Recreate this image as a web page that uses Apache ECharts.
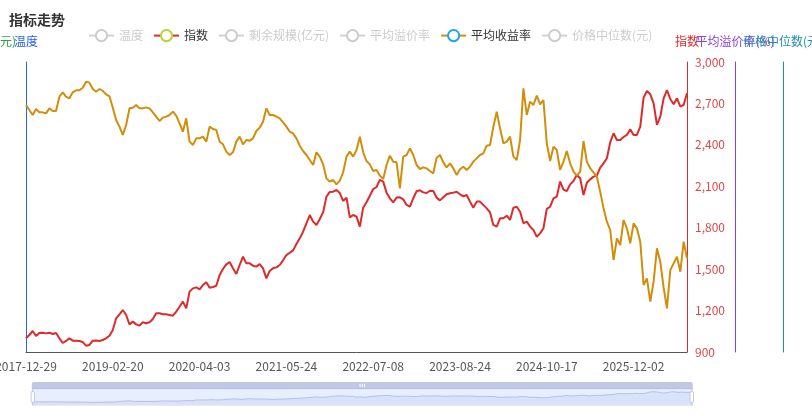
<!DOCTYPE html>
<html>
<head>
<meta charset="utf-8">
<script src="https://cdn.jsdelivr.net/npm/echarts@6.0.0/dist/echarts.min.js"></script>
<style>
  html, body { margin: 0; padding: 0; background: #fff; }
  #chart { width: 812px; height: 416px; }
</style>
</head>
<body>
<div id="chart"></div>
<script>
// x 轴刻度日期（每 26 个点一个标签）
const tickDates = ['2017-12-29', '2019-02-20', '2020-04-03', '2021-05-24',
    '2022-07-08', '2023-08-24', '2024-10-17', '2025-12-02'];
const labelStep = 26;
const tailCount = 16;

const legendNames = ['温度', '指数', '剩余规模(亿元)', '平均溢价率', '平均收益率', '价格中位数(元)'];

// 指数
const indexValues = [
    1000, 1023, 1052, 1016, 1038, 1040, 1035, 1040, 1030, 1038, 999, 965, 980, 999, 982, 982, 980, 972, 946, 951,
    982, 984, 980, 987, 999, 1018, 1059, 1144, 1173, 1204, 1168, 1100, 1120, 1100,
    1091, 1115, 1108, 1115, 1139, 1180, 1180, 1173, 1173, 1168, 1163, 1192, 1228, 1265, 1216, 1337, 1361, 1368, 1354, 1385,
    1405, 1366, 1371, 1380, 1458, 1501, 1535, 1552, 1506, 1465, 1530, 1590, 1542,
    1542, 1525, 1518, 1537, 1506, 1433, 1487, 1506, 1513, 1530, 1564, 1602, 1619, 1636, 1682, 1723, 1771, 1832, 1892, 1844,
    1820, 1863, 1911, 2025, 2059, 2061, 2073, 2051, 1994, 2018, 1875, 1892, 1880,
    1808, 1945, 1984, 2032, 2080, 2095, 2146, 2134, 2054, 2013, 1984, 2018, 2020, 2006, 1965, 1952, 2013, 2064, 2071, 2056,
    2051, 2068, 2066, 2018, 1998, 2020, 2042, 2049, 2054, 2061, 2042, 2027, 2037,
    1989, 1945, 1989, 1989, 1965, 1940, 1911, 1820, 1808, 1868, 1868, 1887, 1856, 1945, 1952, 1916, 1832, 1844, 1808, 1784,
    1735, 1759, 1796, 1936, 1952, 2013, 2025, 2134, 2076, 2066, 2114, 2138,
    2182, 2158, 2037, 2126, 2150, 2170, 2177, 2235, 2266, 2303, 2418, 2484, 2435, 2435, 2457, 2472, 2513, 2472, 2472, 2532,
    2742, 2790, 2766, 2701, 2544, 2604, 2737, 2797, 2732, 2694, 2737, 2677, 2689, 2773
];

// 平均收益率(%)
const avgYield = [
    4.41, 4.26, 4.11, 4.29, 4.19, 4.19, 4.16, 4.31, 4.23, 4.23, 4.66, 4.79, 4.66, 4.61, 4.79, 4.85, 4.85, 4.93, 5.11, 5.08,
    4.89, 4.81, 4.89, 4.83, 4.73, 4.67, 4.33, 3.96, 3.76, 3.51, 3.81, 4.31, 4.33, 4.41,
    4.31, 4.31, 4.34, 4.31, 4.19, 4.06, 3.93, 4.03, 4.06, 4.11, 4.21, 4.09, 3.86, 3.61, 4.01, 3.31, 3.21, 3.41, 3.41, 3.46,
    3.31, 3.76, 3.69, 3.66, 3.31, 3.23, 3.01, 2.91, 2.99, 3.31, 3.46, 3.23, 3.36,
    3.34, 3.41, 3.63, 3.73, 3.91, 4.31, 4.11, 4.11, 4.06, 4.01, 3.89, 3.76, 3.61, 3.56, 3.41, 3.19, 3.03, 2.91, 2.76, 2.61,
    2.99, 2.86, 2.63, 2.21, 2.11, 2.16, 2.03, 2.14, 2.39, 2.86, 3.01, 2.86, 3.06,
    3.46, 2.99, 2.73, 2.63, 2.43, 2.46, 2.29, 2.19, 2.61, 2.89, 2.71, 2.69, 1.91, 2.86, 2.91, 3.11, 2.91, 2.61, 2.49, 2.54,
    2.51, 2.43, 2.36, 2.83, 2.91, 2.69, 2.54, 2.66, 2.51, 2.31, 2.48, 2.56, 2.46,
    2.56, 2.71, 2.81, 2.91, 2.96, 3.19, 3.21, 3.76, 4.21, 3.71, 3.26, 3.31, 3.46, 2.86, 2.76, 3.36, 4.91, 4.11, 4.51, 4.41,
    4.69, 4.43, 4.56, 3.26, 2.73, 3.16, 3.06, 2.46, 2.71, 3.03, 2.66, 2.41,
    2.29, 2.41, 3.33, 2.71, 2.51, 2.39, 2.26, 1.81, 1.31, 0.91, 0.66, -0.24, 0.41, 0.21, 0.96, 0.71, 0.26, 0.86, 0.71, 0.31,
    -0.99, -0.79, -1.49, -0.89, 0.11, -0.29, -1.07, -1.69, -0.54, -0.34, -0.14, -0.59, 0.31, -0.19
];

function fmt(t) {
    return new Date(t).toISOString().slice(0, 10);
}

// 在刻度日期之间补全类目日期
function buildDates() {
    const list = [];
    const day = 86400000;
    const ts = tickDates.map(d => Date.parse(d + 'T00:00:00Z'));
    for (let k = 0; k < ts.length - 1; k++) {
        const span = (ts[k + 1] - ts[k]) / day;
        for (let j = 0; j < labelStep; j++) {
            list.push(fmt(ts[k] + Math.round(span * j / labelStep) * day));
        }
    }
    const last = ts[ts.length - 1];
    const lastSpan = (last - ts[ts.length - 2]) / day;
    for (let j = 0; j <= tailCount; j++) {
        list.push(fmt(last + Math.round(lastSpan * j / labelStep) * day));
    }
    return list;
}

const dates = buildDates();
const chart = echarts.init(document.getElementById('chart'));

const option = {
    textStyle: { fontFamily: '"Noto Sans CJK SC", sans-serif' },
    title: {
        text: '指标走势',
        left: 4,
        top: 8,
        textStyle: { fontSize: 14, fontWeight: 'bold', color: '#333' }
    },
    tooltip: { trigger: 'axis' },
    legend: {
        left: 83,
        top: 24,
        itemWidth: 25,
        itemHeight: 14,
        itemGap: 10,
        data: legendNames,
        selected: {
            '温度': false,
            '剩余规模(亿元)': false,
            '平均溢价率': false,
            '价格中位数(元)': false
        },
        inactiveColor: '#ccc',
        textStyle: { fontSize: 12, color: '#333' }
    },
    grid: { left: 26, right: 125, top: 62, bottom: 64, containLabel: false, outerBoundsMode: 'none' },
    xAxis: {
        type: 'category',
        data: dates,
        boundaryGap: false,
        axisLine: { lineStyle: { color: '#555' } },
        axisTick: { show: false },
        axisLabel: { interval: labelStep - 1, color: '#555', fontSize: 12 }
    },
    yAxis: [
        {
            name: '温度', type: 'value', position: 'left', offset: 0,
            axisLine: { show: true, lineStyle: { color: '#2962f0' } },
            axisLabel: { show: false }, axisTick: { show: false }, splitLine: { show: false },
            nameTextStyle: { color: '#2962f0', fontSize: 12 }
        },
        {
            name: '剩余规模(亿元)', type: 'value', position: 'left', offset: 50,
            axisLine: { show: true, lineStyle: { color: '#2ca34b' } },
            axisLabel: { show: false }, axisTick: { show: false }, splitLine: { show: false },
            nameTextStyle: { color: '#2ca34b', fontSize: 12 }
        },
        {
            name: '指数', type: 'value', position: 'right', offset: 0,
            min: 900, max: 3000, interval: 300,
            axisLine: { show: true, lineStyle: { color: '#dd2a2a' } },
            axisLabel: { color: '#e04848', fontSize: 12 },
            axisTick: { show: false }, splitLine: { show: false },
            nameTextStyle: { color: '#dd2a2a', fontSize: 12 }
        },
        {
            name: '平均溢价率(%)', type: 'value', position: 'right', offset: 48,
            axisLine: { show: true, lineStyle: { color: '#8a3fe0' } },
            axisLabel: { show: false }, axisTick: { show: false }, splitLine: { show: false },
            nameTextStyle: { color: '#8a3fe0', fontSize: 12 }
        },
        {
            name: '价格中位数(元)', type: 'value', position: 'right', offset: 96,
            axisLine: { show: true, lineStyle: { color: '#1f8ea6' } },
            axisLabel: { show: false }, axisTick: { show: false }, splitLine: { show: false },
            nameTextStyle: { color: '#1f8ea6', fontSize: 12 }
        },
        {
            type: 'value', show: false, min: -3, max: 5.7
        }
    ],
    dataZoom: [
        { type: 'slider', xAxisIndex: 0, left: 29, right: 122, bottom: 17, height: 17, start: 0, end: 100 },
        { type: 'inside', xAxisIndex: 0 }
    ],
    series: [
        {
            name: '指数', type: 'line', yAxisIndex: 2, data: indexValues,
            showSymbol: false, symbol: 'emptyCircle',
            lineStyle: { color: '#dd2a2a', width: 2 },
            itemStyle: { color: '#b5d334' }
        },
        {
            name: '温度', type: 'line', yAxisIndex: 0, data: [],
            showSymbol: false, lineStyle: { color: '#2962f0' }, itemStyle: { color: '#2962f0' }
        },
        {
            name: '剩余规模(亿元)', type: 'line', yAxisIndex: 1, data: [],
            showSymbol: false, lineStyle: { color: '#2ca34b' }, itemStyle: { color: '#2ca34b' }
        },
        {
            name: '平均溢价率', type: 'line', yAxisIndex: 3, data: [],
            showSymbol: false, lineStyle: { color: '#8a3fe0' }, itemStyle: { color: '#8a3fe0' }
        },
        {
            name: '平均收益率', type: 'line', yAxisIndex: 5, data: avgYield,
            showSymbol: false, symbol: 'emptyCircle',
            lineStyle: { color: '#d18e0b', width: 2 },
            itemStyle: { color: '#1ba8e3' }
        },
        {
            name: '价格中位数(元)', type: 'line', yAxisIndex: 4, data: [],
            showSymbol: false, lineStyle: { color: '#1f8ea6' }, itemStyle: { color: '#1f8ea6' }
        }
    ]
};

chart.setOption(option);
</script>
</body>
</html>
